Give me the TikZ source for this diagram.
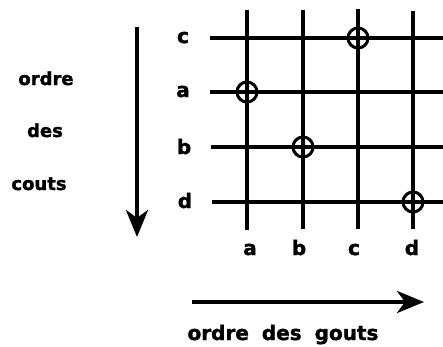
\documentclass[tikz,border=0pt]{standalone}
\usepackage{fontspec}
\setmainfont{DejaVu Sans}[BoldFeatures={FakeBold=1.6}]
\usepackage{tikz}
\usetikzlibrary{arrows.meta}
\tikzset{
  lbl/.style={anchor=base,inner sep=0pt,font=\fontsize{20}{24}\selectfont\bfseries},
  sidelbl/.style={lbl,font=\fontsize{18}{22}\selectfont\bfseries},
  gridline/.style={black,line width=3.2pt},
  pick/.style={circle,draw,black,line width=3pt,minimum size=20pt,inner sep=0pt},
  bigarrow/.style={-{Stealth[length=27pt,width=22pt,inset=8pt]},black,line width=4pt}
}

\begin{document}
\begin{tikzpicture}[x=1pt,y=-1pt]
  \useasboundingbox (0,0) rectangle (443,346);

  % row labels (couts)
  \node[lbl] (rc) at (183,43) {c};
  \node[lbl] (ra) at (183,97) {a};
  \node[lbl] (rb) at (184,154) {b};
  \node[lbl] (rd) at (185,208) {d};

  % column labels (gouts)
  \node[lbl] (ca) at (250,255) {a};
  \node[lbl] (cb) at (299,255) {b};
  \node[lbl] (cc) at (354,255) {c};
  \node[lbl] (cd) at (412,255) {d};

  % ends of the grid lines
  \coordinate (hcl) at (210,38);  \coordinate (hcr) at (443,38);
  \coordinate (hal) at (210,92);  \coordinate (har) at (443,92);
  \coordinate (hbl) at (211,147); \coordinate (hbr) at (443,147);
  \coordinate (hdl) at (212,202); \coordinate (hdr) at (443,202);
  \coordinate (vat) at (247,10);  \coordinate (vab) at (247,230);
  \coordinate (vbt) at (303,10);  \coordinate (vbb) at (303,229);
  \coordinate (vct) at (358,9);   \coordinate (vcb) at (358,229);
  \coordinate (vdt) at (413,11);  \coordinate (vdb) at (413,229);

  \draw[gridline] (hcl) -- (hcr);
  \draw[gridline] (hal) -- (har);
  \draw[gridline] (hbl) -- (hbr);
  \draw[gridline] (hdl) -- (hdr);
  \draw[gridline] (vat) -- (vab);
  \draw[gridline] (vbt) -- (vbb);
  \draw[gridline] (vct) -- (vcb);
  \draw[gridline] (vdt) -- (vdb);

  % chosen pairs
  \node[pick] (pc) at (358,38) {};
  \node[pick] (pa) at (247,92) {};
  \node[pick] (pb) at (303,147) {};
  \node[pick] (pd) at (413,202) {};

  % ordre des couts
  \node[sidelbl] (ordre) at (46,85) {ordre};
  \node[sidelbl] (des) at (45,137) {des};
  \node[sidelbl] (couts) at (39,190) {couts};
  \coordinate (ctop) at (137,27);
  \coordinate (cbot) at (137,237);
  \draw[bigarrow] (ctop) -- (cbot);

  % ordre des gouts
  \coordinate (gl) at (192,302);
  \coordinate (gr) at (424,302);
  \draw[bigarrow] (gl) -- (gr);
  \node[lbl] (gouts) at (283,340) {ordre\hspace{13pt}des\hspace{13pt}gouts};
\end{tikzpicture}
\end{document}
